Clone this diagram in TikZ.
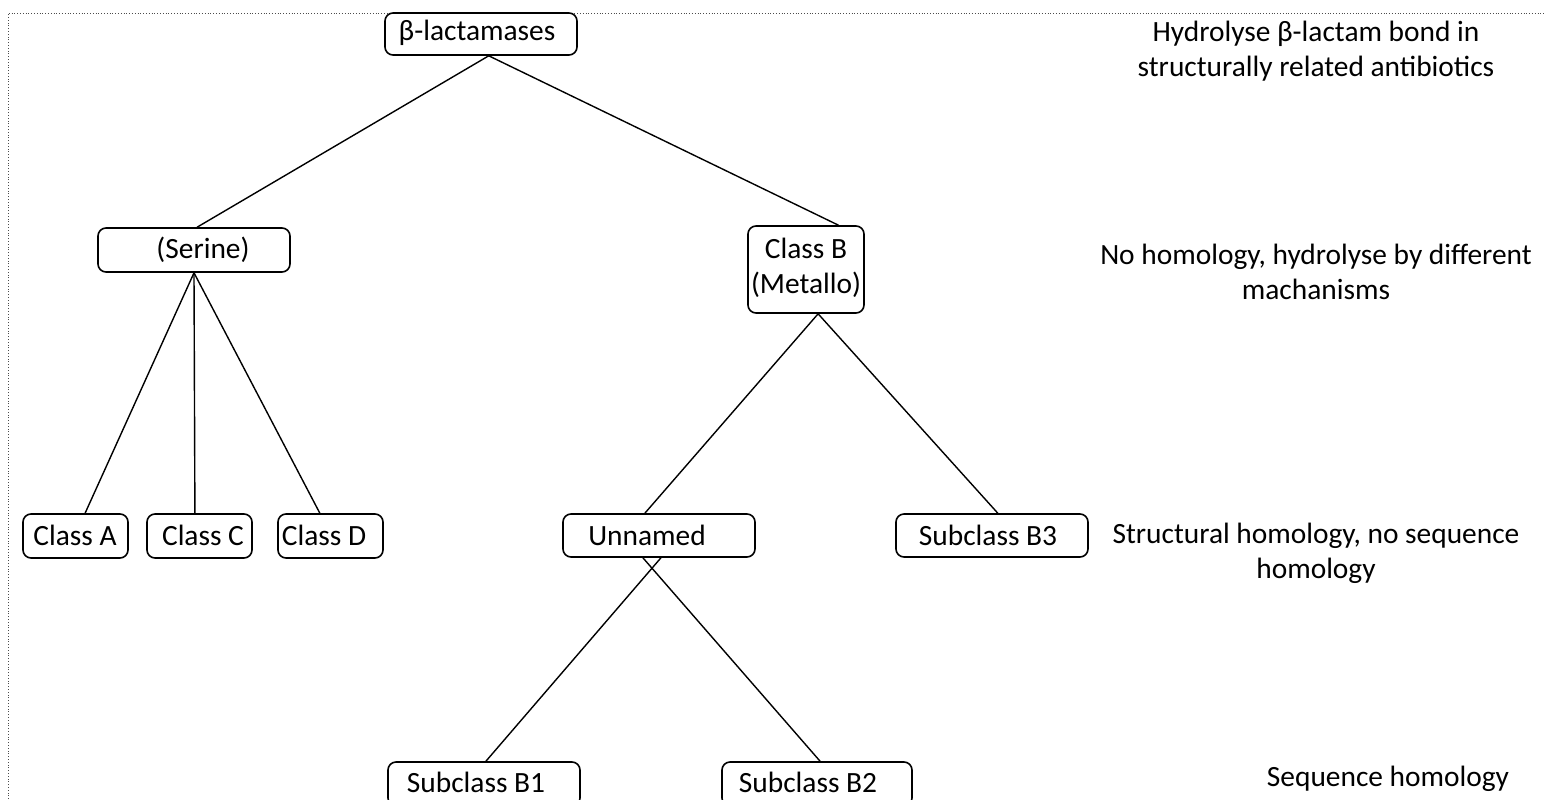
\documentclass[tikz,border=0pt]{standalone}
\usepackage{fontspec}
\setmainfont{Carlito}
\usetikzlibrary{calc}
\begin{document}
\begin{tikzpicture}[x=0.5pt,y=-0.5pt,
  box/.style={draw, line width=0.8pt, rounded corners=4pt, inner sep=0pt},
  lbl/.style={inner sep=0pt, font=\fontsize{14.7}{17.5}\selectfont, align=center},
  link/.style={line width=0.7pt}]
\useasboundingbox (0,0) rectangle (1544,799);
\clip (0,0) rectangle (1544,799);
\draw[densely dotted, line width=0.4pt, black!70] (8,799) -- (8,13) -- (1544,13);

% boxes
\node[box, minimum width=96pt, minimum height=21pt] (beta) at (481,34) {};
\node[box, minimum width=96pt, minimum height=22pt] (serine) at (194,250) {};
\node[box, minimum width=58pt, minimum height=43.5pt] (classB) at (806,269.5) {};
\node[box, minimum width=52.5pt, minimum height=22pt] (classA) at (75.5,536) {};
\node[box, minimum width=52.5pt, minimum height=22pt] (classC) at (199.5,536) {};
\node[box, minimum width=52.5pt, minimum height=22pt] (classD) at (330.5,536) {};
\node[box, minimum width=96pt, minimum height=21.5pt] (unnamed) at (659,535.5) {};
\node[box, minimum width=96pt, minimum height=21.5pt] (b3) at (992,535.5) {};
\node[box, minimum width=96pt, minimum height=22pt] (b1) at (484,784) {};
\node[box, minimum width=95pt, minimum height=22pt] (b2) at (817,784) {};

% box texts
\node[lbl] (betaT) at (477,33) {β-lactamases};
\node[lbl] (serineT) at (203,250) {(Serine)};
\node[lbl] (classBT) at (806,268) {Class B\\(Metallo)};
\node[lbl] (classAT) at (75,535) {Class A};
\node[lbl] (classCT) at (203,535) {Class C};
\node[lbl] (classDT) at (324,535) {Class D};
\node[lbl] (unnamedT) at (647,535) {Unnamed};
\node[lbl] (b3T) at (988,535) {Subclass B3};
\node[lbl] (b1T) at (476,782) {Subclass B1};
\node[lbl] (b2T) at (808,782) {Subclass B2};

% side texts
\node[lbl] (t1) at (1316,51) {Hydrolyse β-lactam bond in\\structurally related antibiotics};
\node[lbl] (t2) at (1316,272) {No homology, hydrolyse by different\\machanisms};
\node[lbl] (t3) at (1316,553) {Structural homology, no sequence\\homology};
\node[lbl] (t4) at (1388,779) {Sequence homology};

% connectors
\draw[link] ($(beta.south west)!0.54!(beta.south east)$) -- ($(serine.north west)!0.516!(serine.north east)$);
\draw[link] ($(beta.south west)!0.54!(beta.south east)$) -- ($(classB.north west)!0.776!(classB.north east)$);
\draw[link] (serine.south) -- ($(classA.north west)!0.59!(classA.north east)$);
\draw[link] (serine.south) -- ($(classC.north west)!0.457!(classC.north east)$);
\draw[link] (serine.south) -- ($(classD.north west)!0.4!(classD.north east)$);
\draw[link] ($(classB.south west)!0.603!(classB.south east)$) -- ($(unnamed.north west)!0.427!(unnamed.north east)$);
\draw[link] ($(classB.south west)!0.603!(classB.south east)$) -- ($(b3.north west)!0.53!(b3.north east)$);
\draw[link] ($(unnamed.south west)!0.51!(unnamed.south east)$) -- ($(b1.north west)!0.51!(b1.north east)$);
\draw[link] ($(unnamed.south west)!0.417!(unnamed.south east)$) -- ($(b2.north west)!0.516!(b2.north east)$);
\end{tikzpicture}
\end{document}
